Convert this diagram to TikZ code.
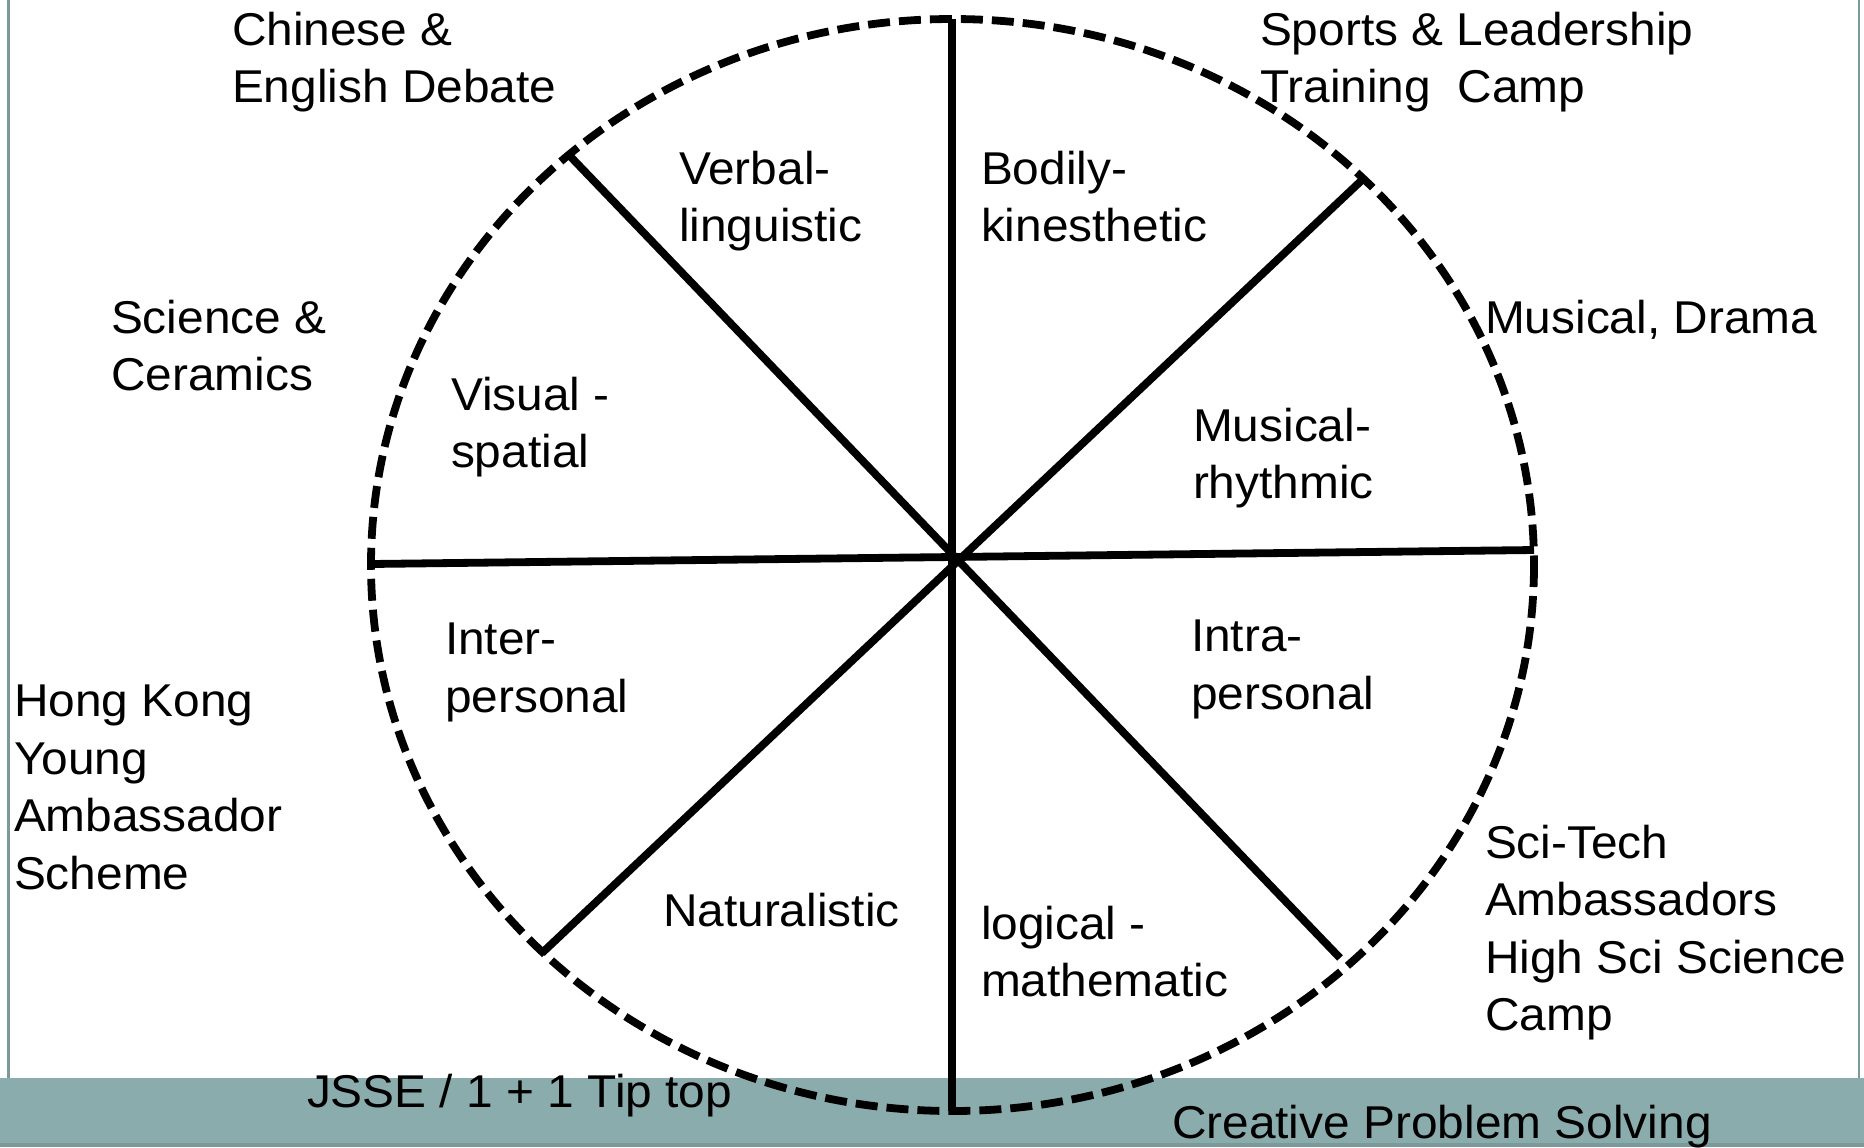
\documentclass[tikz,border=0pt]{standalone}
\usepackage{fontspec}
\setmainfont{Liberation Sans}[FakeStretch=1.04]
\begin{document}
\begin{tikzpicture}[x=0.5pt,y=-0.5pt,
  lbl/.style={font=\fontsize{23}{28.75}\selectfont, align=left, anchor=north west, inner sep=0pt, outer sep=0pt},
  spoke/.style={line width=3.9pt, line cap=butt},
  rim/.style={line width=3.9pt, dash pattern=on 11pt off 4.5pt}]
\definecolor{band}{HTML}{8BACAC}
\definecolor{bandedge}{HTML}{7B9999}
\useasboundingbox (0,0) rectangle (1864,1147);
\fill[white] (0,0) rectangle (1864,1147);
% bottom band and frame
\fill[band] (0,1078) rectangle (1864,1147);
\fill[bandedge] (0,1143) rectangle (1864,1147);
\draw[bandedge, line width=1.2pt] (8.5,0) -- (8.5,1078);
\draw[bandedge, line width=1.2pt] (1859,0) -- (1859,1078);
% rim
\draw[rim] (952.5,565) ellipse [x radius=581.5, y radius=546];
% spoke end points
\coordinate (T) at (952,19);
\coordinate (B) at (952,1111);
\coordinate (L) at (371,564);
\coordinate (R) at (1534,550);
\coordinate (UL) at (568,154);
\coordinate (LR) at (1340,958);
\coordinate (UR) at (1362,180);
\coordinate (LL) at (542,953);
\draw[spoke] (T) -- (B);
\draw[spoke] (L) -- (R);
\draw[spoke] (UL) -- (LR);
\draw[spoke] (UR) -- (LL);
% labels
\node[lbl] (chinese) at (232,12) {Chinese \&\\English Debate};
\node[lbl] (sports) at (1260,12) {Sports \& Leadership\\Training~~Camp};
\node[lbl] (verbal) at (679,151) {Verbal-\\linguistic};
\node[lbl] (bodily) at (981,151) {Bodily-\\kinesthetic};
\node[lbl] (science) at (111,300) {Science \&\\Ceramics};
\node[lbl] (musdrama) at (1485,300) {Musical, Drama};
\node[lbl] (visual) at (451,377) {Visual -\\spatial};
\node[lbl] (musical) at (1193,408) {Musical-\\rhythmic};
\node[lbl] (inter) at (445,623) {Inter-\\personal};
\node[lbl] (intra) at (1191,620) {Intra-\\personal};
\node[lbl] (hk) at (14,685) {Hong Kong\\Young\\Ambassador\\Scheme};
\node[lbl] (scitech) at (1485,825) {Sci-Tech\\Ambassadors\\High Sci Science\\Camp};
\node[lbl] (natural) at (663,893) {Naturalistic};
\node[lbl] (logical) at (981,906) {logical -\\mathematic};
\node[lbl] (jsse) at (307,1074) {JSSE / 1 + 1 Tip top};
\node[lbl] (creative) at (1172,1105) {Creative Problem Solving};
\end{tikzpicture}
\end{document}
